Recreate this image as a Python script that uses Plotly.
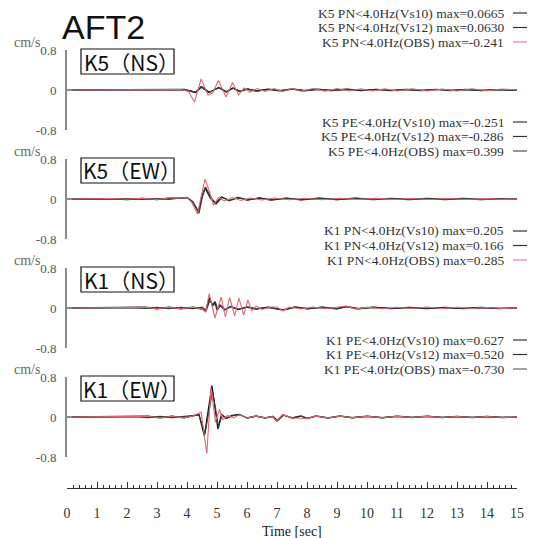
import plotly.graph_objects as go

# ---------------- data ----------------
panel_labels = ["K5（NS）", "K5（EW）", "K1（NS）", "K1（EW）"]
legend_prefix = ["K5 PN", "K5 PE", "K1 PN", "K1 PE"]
series_names = ["Vs10", "Vs12", "OBS"]
max_text = [
    ["0.0665", "0.0630", "-0.241"],
    ["-0.251", "-0.286", "0.399"],
    ["0.205", "0.166", "0.285"],
    ["0.627", "0.520", "-0.730"],
]
x_ticks = list(range(0, 16))
y_ticks = [-0.8, 0, 0.8]
y_ticktext = ["-0.8", "0", "0.8"]

# K5 NS
k5ns_vs10_t = [0, 3.0, 3.5, 3.9, 4.1, 4.28, 4.47, 4.72, 4.9, 5.05, 5.3, 5.52, 5.75, 6.0, 6.3, 6.7, 7.1, 7.5, 7.9, 8.3, 8.8, 9.3, 9.8, 10.3, 10.8, 11.3, 11.8, 12.3, 12.8, 13.3, 13.8, 14.3, 14.8, 15]
k5ns_vs10_v = [0, 0.005, -0.005, 0.01, -0.02, -0.05, 0.0665, -0.05, 0.0, 0.05, -0.04, 0.04, -0.03, 0.02, -0.02, 0.015, -0.015, 0.02, -0.015, 0.015, -0.01, 0.015, -0.01, 0.012, -0.01, 0.01, -0.01, 0.012, -0.01, 0.01, -0.01, 0.008, -0.005, 0]
k5ns_vs12_t = [0, 3.0, 3.5, 3.9, 4.1, 4.3, 4.5, 4.75, 4.92, 5.08, 5.32, 5.55, 5.78, 6.05, 6.35, 6.75, 7.15, 7.55, 7.95, 8.4, 8.9, 9.4, 9.9, 10.4, 10.9, 11.4, 11.9, 12.4, 12.9, 13.4, 13.9, 14.4, 14.9, 15]
k5ns_vs12_v = [0, -0.005, 0.005, 0.008, -0.018, -0.045, 0.063, -0.045, 0.005, 0.045, -0.035, 0.035, -0.025, 0.02, -0.02, 0.015, -0.012, 0.018, -0.012, 0.012, -0.01, 0.012, -0.01, 0.01, -0.01, 0.01, -0.008, 0.01, -0.008, 0.008, -0.008, 0.006, -0.004, 0]
k5ns_obs_t = [0, 3.0, 3.8, 4.05, 4.25, 4.47, 4.7, 4.85, 5.05, 5.3, 5.52, 5.72, 5.9, 6.1, 6.35, 6.6, 6.9, 7.2, 7.5, 7.8, 8.2, 8.6, 9.0, 9.4, 9.8, 10.2, 10.6, 11.0, 11.5, 12.0, 12.5, 13.0, 13.5, 14.0, 14.5, 15]
k5ns_obs_v = [0, 0.005, 0.01, -0.03, -0.241, 0.22, -0.1, -0.06, 0.19, -0.14, 0.15, -0.1, 0.04, -0.04, 0.03, -0.03, 0.03, -0.03, 0.03, -0.025, 0.03, -0.025, 0.03, -0.02, 0.025, -0.02, 0.025, -0.02, 0.025, -0.02, 0.02, -0.02, 0.025, -0.015, 0.02, 0]

# K5 EW
k5ew_vs10_t = [0, 1.5, 2.0, 2.5, 3.0, 3.4, 3.8, 4.0, 4.18, 4.38, 4.5, 4.6, 4.78, 4.95, 5.15, 5.4, 5.7, 6.0, 6.4, 6.8, 7.3, 7.8, 8.4, 9.0, 9.6, 10.2, 10.8, 11.4, 12.0, 12.6, 13.2, 13.8, 14.4, 15]
k5ew_vs10_v = [0, 0.005, -0.01, 0.01, -0.01, 0.015, 0.02, 0.03, -0.05, -0.251, 0.05, 0.22, 0.02, -0.09, 0.04, -0.03, 0.03, -0.02, 0.02, -0.02, 0.015, -0.015, 0.015, -0.01, 0.015, -0.01, 0.01, -0.01, 0.01, -0.01, 0.01, -0.01, 0.005, 0]
k5ew_vs12_t = [0, 1.5, 2.0, 2.5, 3.0, 3.4, 3.8, 4.0, 4.2, 4.4, 4.52, 4.62, 4.8, 4.97, 5.17, 5.42, 5.72, 6.02, 6.42, 6.82, 7.32, 7.82, 8.42, 9.02, 9.62, 10.22, 10.82, 11.42, 12.02, 12.62, 13.22, 13.82, 14.42, 15]
k5ew_vs12_v = [0, -0.005, 0.01, -0.01, 0.01, -0.01, 0.02, 0.025, -0.06, -0.286, 0.06, 0.24, 0.03, -0.1, 0.035, -0.03, 0.025, -0.02, 0.02, -0.015, 0.015, -0.015, 0.012, -0.012, 0.012, -0.01, 0.01, -0.01, 0.01, -0.008, 0.008, -0.008, 0.005, 0]
k5ew_obs_t = [0, 1.5, 2.0, 2.5, 3.0, 3.4, 3.8, 4.0, 4.15, 4.35, 4.47, 4.6, 4.75, 4.88, 5.05, 5.25, 5.5, 5.8, 6.1, 6.5, 6.9, 7.4, 7.9, 8.5, 9.1, 9.7, 10.3, 10.9, 11.5, 12.1, 12.7, 13.3, 13.9, 14.5, 15]
k5ew_obs_v = [0, 0.01, -0.005, 0.015, -0.01, 0.02, 0.02, 0.03, -0.06, -0.3, 0.05, 0.399, 0.15, -0.12, 0.03, -0.04, 0.03, -0.03, 0.02, -0.02, 0.02, -0.015, 0.015, -0.015, 0.015, -0.01, 0.012, -0.01, 0.01, -0.01, 0.01, -0.01, 0.008, -0.005, 0]

# K1 NS
k1ns_vs10_t = [0, 2.2, 2.6, 3.0, 3.4, 3.8, 4.2, 4.5, 4.62, 4.75, 4.85, 4.93, 5.0, 5.1, 5.25, 5.45, 5.7, 6.0, 6.3, 6.7, 7.2, 7.6, 8.0, 8.5, 9.0, 9.3, 9.7, 10.2, 10.8, 11.4, 12.0, 12.6, 13.2, 13.8, 14.4, 15]
k1ns_vs10_v = [0, 0.0, 0.015, -0.015, 0.015, -0.015, 0.015, -0.02, -0.06, 0.205, 0.05, 0.13, -0.04, 0.06, -0.04, 0.03, -0.03, 0.02, -0.02, 0.015, -0.04, 0.02, -0.015, 0.015, -0.015, 0.03, -0.015, 0.015, -0.01, 0.01, -0.01, 0.01, -0.01, 0.01, -0.01, 0]
k1ns_vs12_t = [0, 2.2, 2.6, 3.0, 3.4, 3.8, 4.2, 4.5, 4.64, 4.77, 4.87, 4.95, 5.02, 5.12, 5.27, 5.47, 5.72, 6.02, 6.32, 6.72, 7.22, 7.62, 8.02, 8.52, 9.02, 9.32, 9.72, 10.22, 10.82, 11.42, 12.02, 12.62, 13.22, 13.82, 14.42, 15]
k1ns_vs12_v = [0, 0.005, -0.01, 0.012, -0.012, 0.012, -0.012, 0.015, -0.05, 0.166, 0.04, 0.11, -0.035, 0.05, -0.035, 0.025, -0.025, 0.02, -0.015, 0.012, -0.035, 0.015, -0.012, 0.012, -0.012, 0.025, -0.012, 0.012, -0.01, 0.01, -0.008, 0.008, -0.008, 0.008, -0.008, 0]
k1ns_obs_t = [0, 2.2, 2.6, 3.0, 3.4, 3.8, 4.2, 4.5, 4.62, 4.74, 4.93, 5.14, 5.28, 5.42, 5.59, 5.73, 5.89, 6.03, 6.16, 6.3, 6.5, 6.8, 7.0, 7.2, 7.4, 7.8, 8.2, 8.6, 9.0, 9.3, 9.6, 10.0, 10.5, 11.0, 11.5, 12.0, 12.5, 13.0, 13.5, 14.0, 14.5, 15]
k1ns_obs_v = [0, 0.0, 0.015, -0.015, 0.015, -0.015, 0.015, -0.02, -0.08, 0.285, -0.2, 0.22, -0.18, 0.21, -0.16, 0.2, -0.14, 0.16, -0.06, 0.04, -0.03, 0.02, 0.02, -0.06, 0.02, -0.02, 0.02, -0.015, 0.02, 0.04, -0.02, 0.015, -0.015, 0.015, -0.01, 0.02, -0.01, 0.015, -0.01, 0.01, -0.01, 0]

# K1 EW
k1ew_vs10_t = [0, 2.3, 2.7, 3.1, 3.5, 3.9, 4.2, 4.4, 4.58, 4.7, 4.83, 4.93, 5.03, 5.15, 5.3, 5.5, 5.75, 6.0, 6.3, 6.6, 6.85, 7.0, 7.2, 7.5, 7.8, 8.0, 8.3, 8.7, 9.1, 9.5, 10.0, 10.5, 11.0, 11.5, 12.0, 12.5, 13.0, 13.5, 14.0, 14.5, 15]
k1ew_vs10_v = [0, 0.0, 0.015, -0.015, 0.015, -0.015, 0.02, 0.05, -0.38, 0.1, 0.627, 0.2, -0.24, 0.05, -0.03, 0.03, 0.05, -0.02, 0.02, -0.02, 0.01, -0.08, 0.04, -0.02, 0.02, -0.03, 0.02, -0.02, 0.02, -0.015, 0.015, -0.015, 0.015, -0.01, 0.015, -0.01, 0.01, -0.01, 0.01, -0.01, 0]
k1ew_vs12_t = [0, 2.3, 2.7, 3.1, 3.5, 3.9, 4.2, 4.4, 4.6, 4.72, 4.85, 4.95, 5.05, 5.17, 5.32, 5.52, 5.77, 6.02, 6.32, 6.62, 6.87, 7.02, 7.22, 7.52, 7.82, 8.02, 8.32, 8.72, 9.12, 9.52, 10.02, 10.52, 11.02, 11.52, 12.02, 12.52, 13.02, 13.52, 14.02, 14.52, 15]
k1ew_vs12_v = [0, 0.005, -0.012, 0.012, -0.012, 0.012, 0.015, 0.04, -0.33, 0.08, 0.52, 0.17, -0.2, 0.04, -0.025, 0.025, 0.04, -0.02, 0.015, -0.015, 0.01, -0.07, 0.035, -0.015, 0.015, -0.025, 0.015, -0.015, 0.015, -0.012, 0.012, -0.012, 0.012, -0.008, 0.012, -0.008, 0.008, -0.008, 0.008, -0.008, 0]
k1ew_obs_t = [0, 2.3, 2.7, 3.1, 3.5, 3.9, 4.2, 4.47, 4.66, 4.8, 4.95, 5.08, 5.2, 5.35, 5.55, 5.75, 6.0, 6.3, 6.6, 6.85, 6.98, 7.19, 7.5, 7.98, 8.3, 8.7, 9.1, 9.5, 10.0, 10.5, 11.0, 11.5, 12.0, 12.5, 13.0, 13.5, 14.0, 14.5, 15]
k1ew_obs_v = [0, 0.0, 0.015, -0.015, 0.015, -0.015, 0.02, 0.1, -0.73, 0.59, -0.1, 0.15, -0.05, 0.03, -0.02, 0.05, -0.02, 0.02, -0.02, 0.01, -0.08, 0.05, -0.02, -0.03, 0.02, -0.02, 0.02, -0.015, 0.015, -0.015, 0.015, -0.01, 0.015, -0.01, 0.01, -0.01, 0.01, -0.01, 0]

panels = [
    [(k5ns_vs10_t, k5ns_vs10_v), (k5ns_vs12_t, k5ns_vs12_v), (k5ns_obs_t, k5ns_obs_v)],
    [(k5ew_vs10_t, k5ew_vs10_v), (k5ew_vs12_t, k5ew_vs12_v), (k5ew_obs_t, k5ew_obs_v)],
    [(k1ns_vs10_t, k1ns_vs10_v), (k1ns_vs12_t, k1ns_vs12_v), (k1ns_obs_t, k1ns_obs_v)],
    [(k1ew_vs10_t, k1ew_vs10_v), (k1ew_vs12_t, k1ew_vs12_v), (k1ew_obs_t, k1ew_obs_v)],
]

# ---------------- styling / layout ----------------
W_PX, H_PX = 541, 538
L, R, T, B = 67, 517, 20, 488          # plot area in pixels
PW, PH = R - L, B - T

def px(x):
    return (x - L) / PW

def py(y):
    return (B - y) / PH

line_colors = ["#111111", "#3a3a3a", "#e06a74"]
line_widths = [1.3, 1.2, 1.1]
sample_colors = [
    ["#333333", "#333333", "#e08890"],
    ["#333333", "#333333", "#555555"],
    ["#333333", "#333333", "#e08890"],
    ["#333333", "#333333", "#666666"],
]
serif = "Liberation Serif, Times New Roman, serif"
sans = "Noto Sans CJK JP, Liberation Sans, sans-serif"
title_sans = "Liberation Sans, Arial, sans-serif"

zero_px = [90, 199, 308, 417]
half_px = 40

fig = go.Figure()
annotations = []
shapes = []

for k, traces in enumerate(panels):
    yname = "y" if k == 0 else f"y{k+1}"
    for j, (t, v) in enumerate(traces):
        fig.add_trace(go.Scatter(
            x=t, y=v, mode="lines", xaxis="x", yaxis=yname,
            line=dict(color=line_colors[j], width=line_widths[j]),
            name=f"{legend_prefix[k]}<4.0Hz({series_names[j]})", showlegend=False,
            hoverinfo="skip"))
    z = zero_px[k]
    top, bot = z - half_px, z + half_px
    axname = "yaxis" if k == 0 else f"yaxis{k+1}"
    fig.layout[axname] = dict(
        domain=[py(bot), py(top)], range=[-0.8, 0.8], anchor="x",
        tickvals=y_ticks, ticktext=y_ticktext, ticks="inside", ticklen=5,
        tickwidth=2, tickcolor="#8a8a8a", showline=True, linecolor="#8a8a8a",
        linewidth=2, showgrid=False, zeroline=False, ticklabelstandoff=6,
        automargin=False,
        tickfont=dict(family=serif, size=13, color="#555555"), fixedrange=True)
    # unit label
    annotations.append(dict(xref="paper", yref="paper", x=px(12), y=py(top - 8),
                            xanchor="left", yanchor="middle", showarrow=False,
                            text="cm/s", font=dict(family=serif, size=14, color="#666666")))
    # panel label box
    bx0, bx1, by0, by1 = 81, 174, top - 1, top + 24
    shapes.append(dict(type="rect", xref="paper", yref="paper",
                       x0=px(bx0), x1=px(bx1), y0=py(by1), y1=py(by0),
                       line=dict(color="#111111", width=1.2)))
    annotations.append(dict(xref="paper", yref="paper", x=px((bx0 + bx1) / 2 + 4),
                            y=py((by0 + by1) / 2), xanchor="center", yanchor="middle",
                            showarrow=False, text=panel_labels[k],
                            font=dict(family=sans, size=21, color="#111111")))
    # legend rows
    for j in range(3):
        ry = z - 77 + 14.5 * j
        annotations.append(dict(
            xref="paper", yref="paper", x=px(505), y=py(ry), xanchor="right",
            yanchor="middle", showarrow=False, borderpad=0,
            text=f"{legend_prefix[k]}&lt;4.0Hz({series_names[j]}) max={max_text[k][j]}",
            font=dict(family=serif, size=13.5, color="#333333")))
        shapes.append(dict(type="line", xref="paper", yref="paper",
                           x0=px(513), x1=px(527), y0=py(ry), y1=py(ry),
                           line=dict(color=sample_colors[k][j], width=1.2)))

annotations.append(dict(xref="paper", yref="paper", x=px(103), y=py(27),
                        xanchor="center", yanchor="middle", showarrow=False,
                        text="AFT2", font=dict(family=title_sans, size=34, color="#111111")))
annotations.append(dict(xref="paper", yref="paper", x=px(292), y=py(531),
                        xanchor="center", yanchor="middle", showarrow=False,
                        text="Time [sec]", font=dict(family=serif, size=14, color="#222222")))

fig.update_layout(
    width=W_PX, height=H_PX,
    margin=dict(l=L, r=W_PX - R, t=T, b=H_PX - B, pad=0, autoexpand=False),
    paper_bgcolor="white", plot_bgcolor="white",
    xaxis=dict(range=[0, 15], anchor="free", position=0, tickvals=x_ticks,
               ticks="inside", ticklen=6, tickwidth=1, tickcolor="#333333",
               minor=dict(dtick=0.2, ticks="inside", ticklen=3, tickcolor="#333333", tickwidth=1),
               showline=True, linecolor="#333333", linewidth=1, showgrid=False,
               zeroline=False, ticklabelstandoff=12, automargin=False,
               tickfont=dict(family=serif, size=14, color="#333333"),
               fixedrange=True),
    annotations=annotations, shapes=shapes, showlegend=False,
)

fig.write_html("out.html", config={"displayModeBar": False},
               post_script="document.body.style.margin='0';document.body.style.overflow='hidden';")
